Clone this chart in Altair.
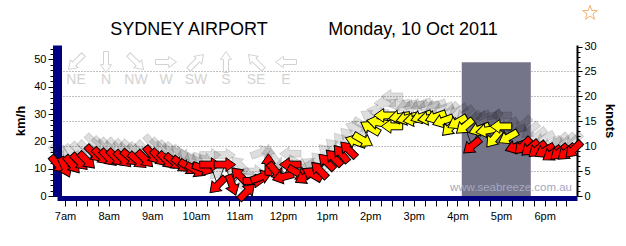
import altair as alt
import pandas as pd

# ---------------- data ----------------
times = ["06:50", "07:00", "07:10", "07:20", "07:30", "07:40", "07:50", "08:00", "08:10", "08:20",
         "08:30", "08:40", "08:50", "09:00", "09:10", "09:20", "09:30", "09:40", "09:50", "10:00",
         "10:10", "10:20", "10:30", "10:40", "10:50", "11:00", "11:10", "11:20", "11:30", "11:40",
         "11:50", "12:00", "12:10", "12:20", "12:30", "12:40", "12:50", "13:00", "13:10", "13:20",
         "13:30", "13:40", "13:50", "14:00", "14:10", "14:20", "14:30", "14:40", "14:50", "15:00",
         "15:10", "15:20", "15:30", "15:40", "15:50", "16:00", "16:10", "16:20", "16:30", "16:40",
         "16:50", "17:00", "17:10", "17:20", "17:30", "17:40", "17:50", "18:00", "18:10", "18:20",
         "18:30", "18:40"]
speed_kmh = [11.5, 10.5, 11.5, 12.5, 13.0, 15.5, 14.5, 14.0, 14.0, 13.5,
             14.0, 13.0, 13.5, 15.0, 14.0, 13.0, 12.5, 11.5, 10.5, 9.5,
             10.0, 11.5, 4.0, 11.5, 4.0, 7.5, 1.5, 5.5, 7.0, 11.5,
             9.0, 7.0, 11.5, 8.5, 7.0, 8.0, 9.5, 12.5, 14.0, 15.5,
             17.0, 20.0, 20.5, 25.0, 27.0, 29.5, 25.5, 29.0, 28.5, 28.0,
             29.0, 28.5, 29.0, 27.5, 25.0, 27.0, 25.5, 18.3, 24.5, 24.0,
             21.0, 25.5, 21.5, 18.0, 18.3, 17.5, 17.0, 16.5, 15.5, 16.0,
             16.0, 17.0]
gust_kmh = [15.5, 14.5, 15.5, 16.5, 17.0, 19.5, 18.5, 18.0, 18.0, 17.5,
            17.5, 16.5, 17.0, 19.0, 18.0, 17.0, 16.5, 15.5, 14.0, 13.0,
            13.5, 15.0, 9.0, 15.0, 8.5, 11.5, 6.0, 9.0, 16.0, 15.0,
            13.0, 11.0, 15.5, 12.0, 10.5, 11.5, 13.0, 16.0, 18.0, 20.0,
            22.0, 25.0, 26.0, 29.0, 31.0, 34.0, 36.5, 33.5, 33.0, 33.0,
            33.5, 33.0, 33.0, 32.0, 31.0, 31.0, 30.0, 28.0, 29.0, 29.0,
            28.0, 29.5, 26.0, 24.0, 26.0, 24.0, 22.0, 21.0, 19.0, 20.0,
            20.0, 20.0]
direction_from_deg = [320, 335, 320, 315, 315, 315, 315, 315, 315, 315,
                      310, 310, 315, 320, 315, 315, 310, 310, 305, 300,
                      290, 270, 45, 270, 340, 135, 225, 270, 250, 180,
                      320, 75, 90, 300, 60, 120, 135, 135, 135, 140,
                      135, 110, 300, 120, 100, 90, 90, 80, 75, 80,
                      70, 80, 70, 70, 45, 60, 50, 50, 70, 80,
                      40, 90, 60, 70, 45, 50, 50, 60, 55, 50,
                      50, 45]

compass_labels = ["NE", "N", "NW", "W", "SW", "S", "SE", "E"]
compass_from_deg = [45, 0, 315, 270, 225, 180, 135, 90]

hour_ticks = [7, 8, 9, 10, 11, 12, 13, 14, 15, 16, 17, 18]
kmh_ticks = [0, 10, 20, 30, 40, 50]
knot_ticks = [0, 5, 10, 15, 20, 25, 30]

shade_start = "16:06"
shade_end = "17:41"
shade_top_kmh = 49.0

title_place = "SYDNEY AIRPORT"
title_date = "Monday, 10 Oct 2011"
watermark = "www.seabreeze.com.au"


def to_hours(t):
    h, m = t.split(":")
    return int(h) + int(m) / 60.0


obs = pd.DataFrame({
    "hour": [to_hours(t) for t in times],
    "speed": speed_kmh,
    "gust": gust_kmh,
    "dir": direction_from_deg,
})
shade = pd.DataFrame({"start": [to_hours(shade_start)], "end": [to_hours(shade_end)],
                      "top": [shade_top_kmh], "base": [0.0]})
compass = pd.DataFrame({"dir": compass_labels, "deg": compass_from_deg})
knots_df = pd.DataFrame({"knots": knot_ticks})

# ---------------- styling ----------------
FONT = "Liberation Sans"
ARROW = "M-1,-0.32L0.1,-0.32L0.1,-0.64L1,0L0.1,0.64L0.1,0.32L-1,0.32Z"
ARROW_LEG = "M-1,-0.24L0.25,-0.24L0.25,-0.52L1,0L0.25,0.52L0.25,0.24L-1,0.24Z"
STAR = ("M0,-1L0.235,-0.324L0.951,-0.309L0.38,0.124L0.588,0.809L0,0.4L-0.588,0.809"
        "L-0.38,0.124L-0.951,-0.309L-0.235,-0.324Z")

quarter_ticks = [h + q / 4.0 for h in range(6, 19) for q in range(4)]
quarter_ticks = [v for v in quarter_ticks if 6.82 <= v <= 18.74]

xscale = alt.Scale(domain=[6.8165, 18.743], nice=False, zero=False)
yscale = alt.Scale(domain=[0, 55.3], nice=False, zero=False)
kscale = alt.Scale(domain=[0, 30.32], nice=False, zero=False)

x_axis = alt.Axis(
    values=quarter_ticks,
    labelExpr="datum.value % 1 != 0 ? '' : (datum.value == 12 ? '12pm' : (datum.value < 12 ? datum.value + 'am' : (datum.value - 12) + 'pm'))",
    title=None, grid=False, offset=2,
    domainColor="#000080", domainWidth=5,
    tickColor="black", tickSize=8, tickWidth=1,
    labelFont=FONT, labelFontSize=11, labelColor="black", labelPadding=4,
    labelOverlap=False,
)
y_axis = alt.Axis(
    values=list(range(0, 56, 2)),
    labelExpr="datum.value % 10 == 0 ? datum.label : ''",
    title="km/h", titleFont=FONT, titleFontSize=13, titleFontWeight="bold",
    titleColor="black", titlePadding=6,
    grid=False, domainColor="#000080", domainWidth=9,
    tickColor="black",
    tickSize=alt.condition("datum.value % 10 == 0", alt.value(9), alt.value(7)),
    labelFont=FONT, labelFontSize=11, labelColor="black", labelPadding=2,
    labelOverlap=False,
)
k_axis = alt.Axis(
    orient="right",
    values=list(range(0, 31)),
    labelExpr="datum.value % 5 == 0 ? datum.label : ''",
    title="knots", titleFont=FONT, titleFontSize=13, titleFontWeight="bold",
    titleColor="black", titlePadding=6,
    grid=True, gridDash=[1, 2], gridColor="#808080", gridWidth=1,
    gridOpacity=alt.condition("datum.value % 5 == 0 && datum.value > 0 && datum.value < 30",
                              alt.value(1), alt.value(0)),
    domainColor="black", domainWidth=2,
    tickColor="black",
    tickSize=alt.condition("datum.value % 5 == 0", alt.value(5), alt.value(3)),
    labelFont=FONT, labelFontSize=11, labelColor="black", labelPadding=2,
    labelOverlap=False,
)

X = alt.X("hour:Q", scale=xscale, axis=x_axis)

shade_layer = alt.Chart(shade).mark_rect(color="#75758a", opacity=1).encode(
    x=alt.X("start:Q", scale=xscale, axis=x_axis), x2="end:Q",
    y=alt.Y("top:Q", scale=yscale, axis=y_axis), y2="base:Q",
)

base = alt.Chart(obs).transform_calculate(rot="(datum.dir + 90) % 360")

gust_layer = base.mark_point(
    shape=ARROW, filled=True, fill="black", fillOpacity=0.13,
    stroke="black", strokeOpacity=0.12, strokeWidth=1, size=460, opacity=1,
).encode(
    x=X, y=alt.Y("gust:Q", scale=yscale, axis=y_axis),
    angle=alt.Angle("rot:Q", scale=None),
)

line_layer = alt.Chart(obs).mark_line(color="black", strokeWidth=0.8).encode(
    x=X, y=alt.Y("speed:Q", scale=yscale, axis=y_axis),
)

speed_layer = base.mark_point(
    shape=ARROW, filled=True, stroke="black", strokeWidth=1, size=460, opacity=1,
).encode(
    x=X, y=alt.Y("speed:Q", scale=yscale, axis=y_axis),
    angle=alt.Angle("rot:Q", scale=None),
    fill=alt.condition("datum.speed >= 19.5", alt.value("#ffff00"), alt.value("#ff0000")),
)

kmh_group = alt.layer(shade_layer, gust_layer, line_layer, speed_layer)

knots_layer = alt.Chart(knots_df).mark_rule(opacity=0).encode(
    y=alt.Y("knots:Q", scale=kscale, axis=k_axis),
)

main = alt.layer(knots_layer, kmh_group).resolve_scale(y="independent")

legX = alt.X("dir:N", sort=compass_labels,
             scale=alt.Scale(type="point", range=[19, 229], padding=0), axis=None)
legend_arrows = alt.Chart(compass).transform_calculate(rot="(datum.deg + 90) % 360").mark_point(
    shape=ARROW_LEG, filled=False, stroke="#d2d2d2", strokeWidth=1, size=440, opacity=1,
).encode(x=legX, y=alt.value(17), angle=alt.Angle("rot:Q", scale=None))
legend_text = alt.Chart(compass).mark_text(
    font="Liberation Sans Narrow, Liberation Sans", fontSize=14, color="#d2d2d2", baseline="middle",
).encode(x=legX, y=alt.value(35), text="dir:N")
legend = alt.layer(legend_arrows, legend_text)

titles_df = pd.DataFrame({"t": [title_place]})
t1 = alt.Chart(titles_df).mark_text(font=FONT, fontSize=18, color="black", align="center",
                                    baseline="alphabetic").encode(
    x=alt.value(132), y=alt.value(-10), text=alt.value(title_place))
t2 = alt.Chart(titles_df).mark_text(font=FONT, fontSize=18, color="black", align="center",
                                    baseline="alphabetic").encode(
    x=alt.value(356), y=alt.value(-10), text=alt.value(title_date))
wm = alt.Chart(titles_df).mark_text(font=FONT, fontSize=11.5, color="#a4a8c0", align="right",
                                    baseline="middle").encode(
    x=alt.value(515), y=alt.value(143), text=alt.value(watermark))
star = alt.Chart(titles_df).mark_point(shape=STAR, filled=False, stroke="#f5b070",
                                       strokeWidth=1, size=240, opacity=1).encode(
    x=alt.value(533), y=alt.value(-32))

chart = alt.layer(main, legend, t1, t2, wm, star).resolve_scale(x="independent").properties(
    width=520, height=151,
    autosize=alt.AutoSizeParams(type="none"),
    padding={"left": 57, "top": 45, "right": 49, "bottom": 50},
    background="white",
).configure_view(stroke=None)

chart.save("out.html", embed_options={"renderer": "svg", "actions": False})
